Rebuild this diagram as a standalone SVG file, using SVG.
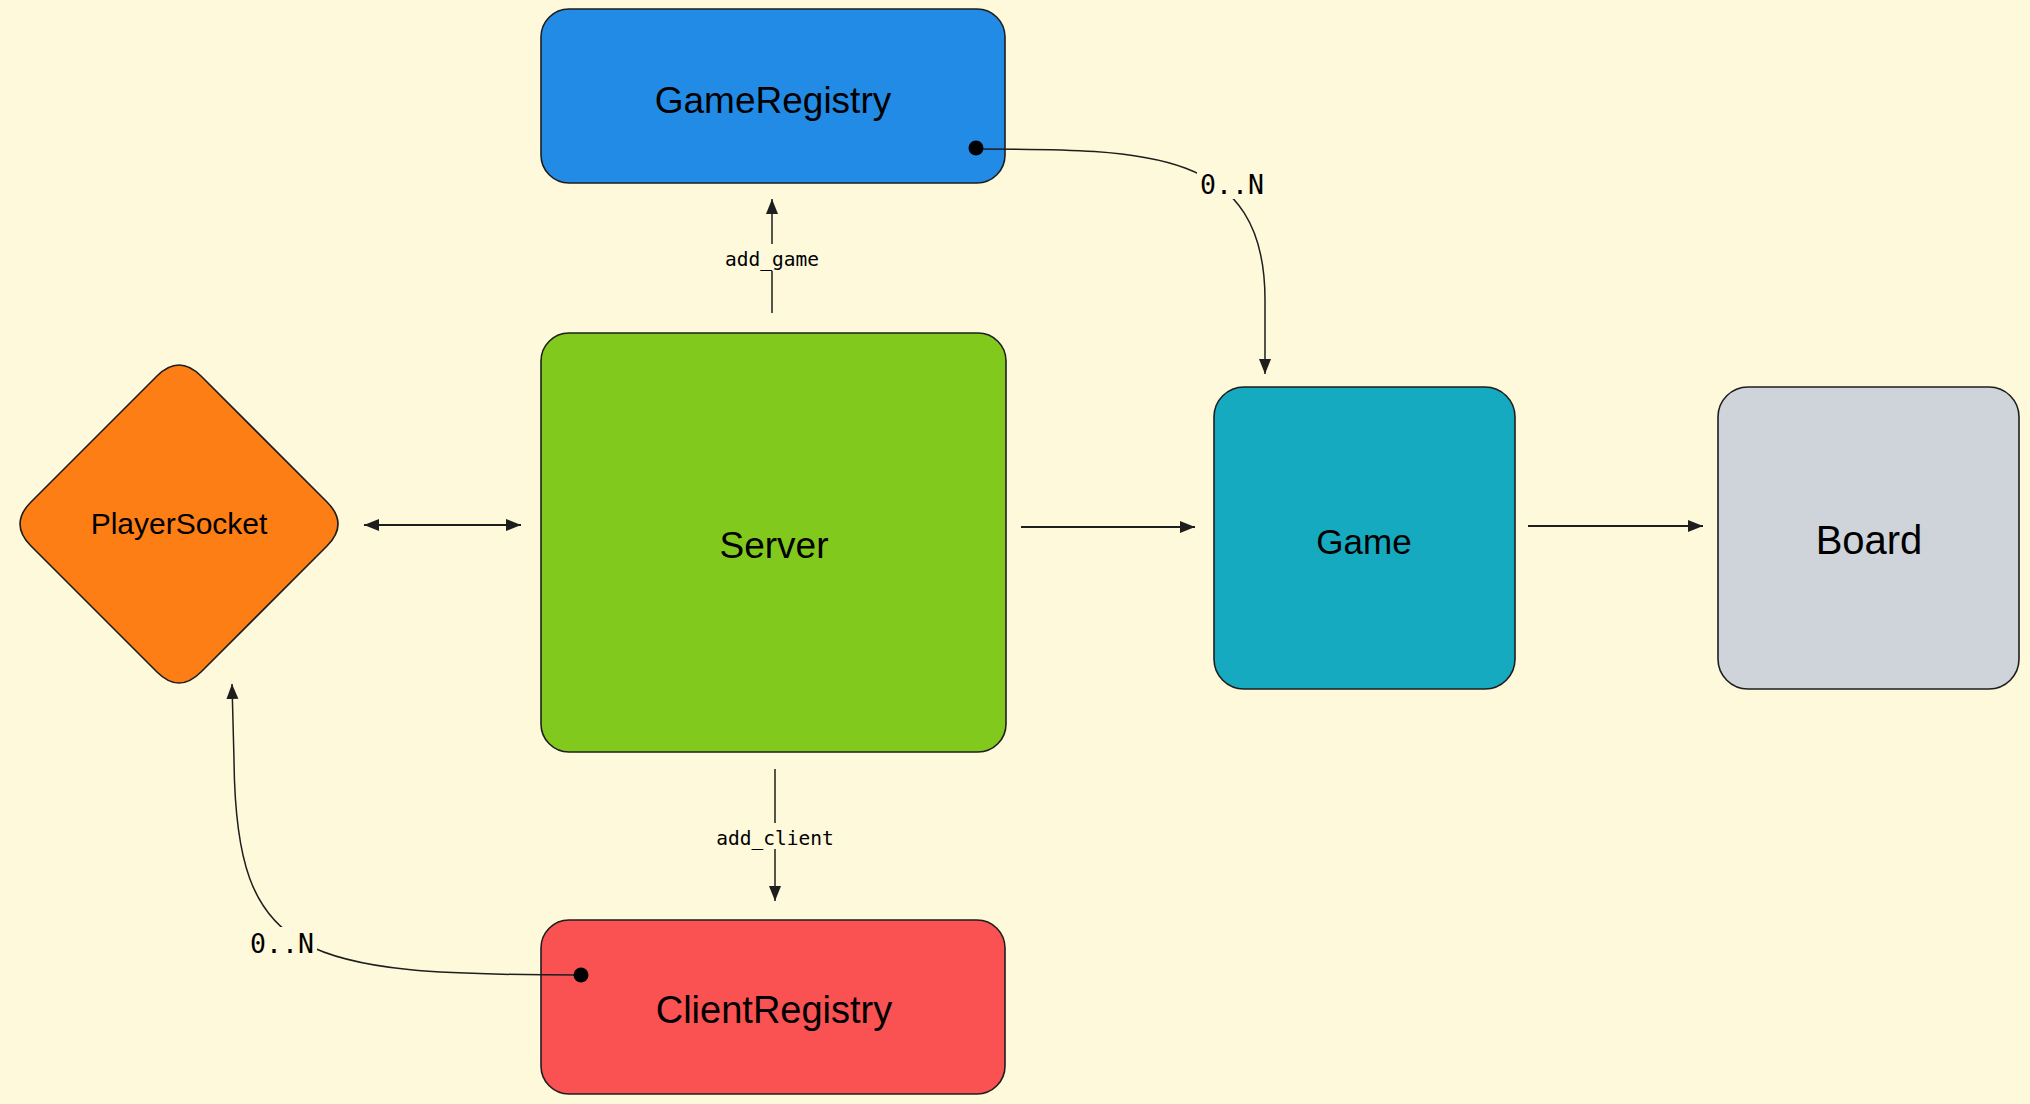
<svg xmlns="http://www.w3.org/2000/svg" width="2030" height="1104" viewBox="0 0 2030 1104">
<style>
.box{stroke:#1e1e1e;stroke-width:1.6}
.lbl{font-family:"Liberation Sans",Arial,sans-serif;fill:#000;text-anchor:middle}
.mono{font-family:"DejaVu Sans Mono","Liberation Mono",monospace;fill:#000;text-anchor:middle}
.conn{fill:none;stroke:#1e1e1e;stroke-width:1.5}
.thick{stroke-width:2}
.bgr{fill:#fff9db}
</style>
<defs>
<marker id="ah" markerUnits="userSpaceOnUse" markerWidth="16" markerHeight="14" refX="15" refY="7" orient="auto-start-reverse" viewBox="0 0 16 14">
<path d="M0,1 L15,7 L0,13 Z" fill="#1e1e1e"/>
</marker>
</defs>
<rect width="2030" height="1104" fill="#fff9db"/>

<g id="GameRegistry">
<rect class="box" x="541" y="9" width="464" height="174" rx="28" fill="#228be6"/>
<text class="lbl" x="773" y="113" font-size="37">GameRegistry</text>
</g>
<g id="Server">
<rect class="box" x="541" y="333" width="465" height="419" rx="28" fill="#82c91e"/>
<text class="lbl" x="774" y="558" font-size="37">Server</text>
</g>
<g id="PlayerSocket">
<path class="box" fill="#fd7e14" d="M201,376 L327,502 Q349,524 327,546 L201,672 Q179,694 157,672 L31,546 Q9,524 31,502 L157,376 Q179,354 201,376 Z"/>
<text class="lbl" x="179" y="534" font-size="30">PlayerSocket</text>
</g>
<g id="Game">
<rect class="box" x="1214" y="387" width="301" height="302" rx="30" fill="#15aabf"/>
<text class="lbl" x="1364" y="554" font-size="35">Game</text>
</g>
<g id="Board">
<rect class="box" x="1718" y="387" width="301" height="302" rx="30" fill="#ced4da"/>
<text class="lbl" x="1869" y="554" font-size="40">Board</text>
</g>
<g id="ClientRegistry">
<rect class="box" x="541" y="920" width="464" height="174" rx="28" fill="#fa5252"/>
<text class="lbl" x="774" y="1023" font-size="38">ClientRegistry</text>
</g>

<g id="connectors">
<path class="conn" d="M772,313 L772,199" marker-end="url(#ah)"/>
<path class="conn" d="M775,769 L775,901" marker-end="url(#ah)"/>
<path class="conn thick" d="M364,525 L521,525" marker-start="url(#ah)" marker-end="url(#ah)"/>
<path class="conn thick" d="M1021,527 L1195,527" marker-end="url(#ah)"/>
<path class="conn thick" d="M1528,526 L1703,526" marker-end="url(#ah)"/>
<path class="conn" d="M976,149 C1150,149 1265,150 1265,300 L1265,374" marker-end="url(#ah)"/>
<circle cx="976" cy="148" r="7.5" fill="#000"/>
<path class="conn" d="M581,975 C300,975 236,960 234,760 L232,684" marker-end="url(#ah)"/>
<circle cx="581" cy="975" r="7.5" fill="#000"/>
<rect class="bgr" x="724" y="244" width="96" height="27"/>
<text class="mono" x="772" y="266" font-size="19.5">add_game</text>
<rect class="bgr" x="715" y="823" width="120" height="26"/>
<text class="mono" x="775" y="845" font-size="19.5">add_client</text>
<rect class="bgr" x="1197" y="166" width="71" height="33"/>
<text class="mono" x="1232" y="194" font-size="26.5">0..N</text>
<rect class="bgr" x="247" y="927" width="70" height="33"/>
<text class="mono" x="282" y="953" font-size="26.5">0..N</text>
</g>
</svg>
